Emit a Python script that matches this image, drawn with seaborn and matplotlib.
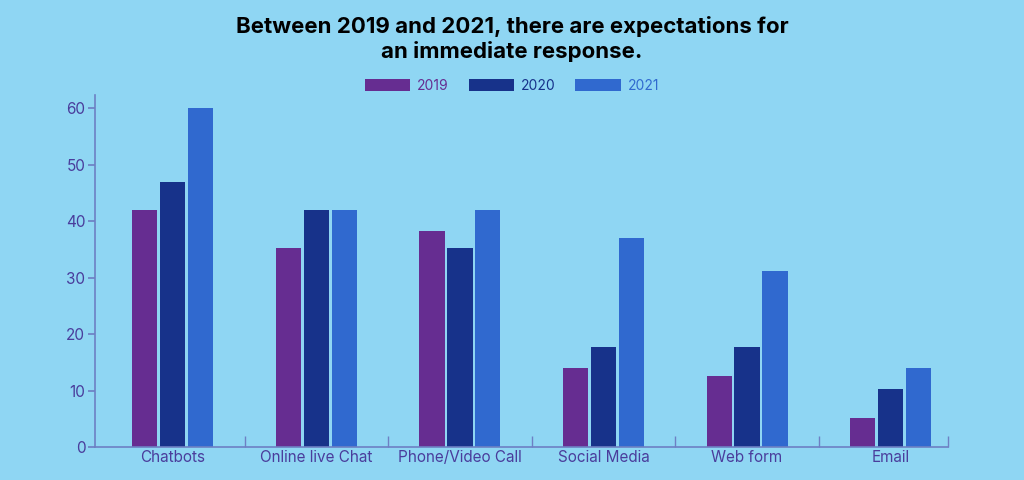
import matplotlib.pyplot as plt
import pandas as pd
import seaborn as sns

# ----- data
channels = ["Chatbots", "Online live Chat", "Phone/Video Call", "Social Media", "Web form", "Email"]
years = ["2019", "2020", "2021"]
v2019 = [42, 35.3, 38.2, 14, 12.6, 5.1]
v2020 = [47, 42, 35.3, 17.7, 17.7, 10.3]
v2021 = [60, 42, 42, 37, 31.1, 14]

colors = ["#662d91", "#17328a", "#3069cf"]
bg = "#8fd6f3"
axis_col = "#6d80c4"
text_col = "#4a3d9c"

df = pd.DataFrame({
    "channel": channels * 3,
    "year": [y for y in years for _ in channels],
    "value": v2019 + v2020 + v2021,
})

# ----- plot
sns.set_theme(style="white")
plt.rcParams["font.family"] = ["Inter", "DejaVu Sans"]

fig = plt.figure(figsize=(10.24, 4.8), dpi=100, facecolor=bg)
ax = fig.add_axes([0.0928, 0.0688, 0.833, 0.733], facecolor=bg)

sns.barplot(data=df, x="channel", y="value", hue="year", order=channels,
            hue_order=years, palette=colors, width=0.584, gap=0.1,
            saturation=1, linewidth=0, edgecolor="none", ax=ax, legend=True)

xmin, xmax = -0.542, 5.40
ax.set_xlim(xmin, xmax)
ax.set_ylim(0, 62.3)
ax.set_yticks([0, 10, 20, 30, 40, 50, 60])
ax.set_xlabel("")
ax.set_ylabel("")

for s in ["top", "right"]:
    ax.spines[s].set_visible(False)
for s in ["left", "bottom"]:
    ax.spines[s].set_color(axis_col)
    ax.spines[s].set_linewidth(1.2)

ax.tick_params(axis="y", left=True, length=5, color=axis_col, labelcolor=text_col,
               labelsize=11, pad=2)
ax.tick_params(axis="x", bottom=False, length=0, labelcolor=text_col, labelsize=11, pad=2)
ax.set_xticks([i + 0.5 for i in range(len(channels) - 1)] + [xmax], minor=True)
ax.tick_params(axis="x", which="minor", bottom=True, direction="in", length=8,
               color=axis_col, width=1)

leg = ax.legend(loc="center", bbox_to_anchor=(0.489, 1.027), ncol=3,
                frameon=False, handlelength=3.3, handleheight=1.0,
                columnspacing=1.4, handletextpad=0.5, fontsize=10)
for t, c in zip(leg.get_texts(), colors):
    t.set_color(c)
for h in leg.legend_handles:
    h.set_edgecolor("none")

fig.text(0.5, 0.967, "Between 2019 and 2021, there are expectations for\nan immediate response.",
         ha="center", va="top", fontsize=16, fontweight="bold", color="black",
         linespacing=1.25)

fig.savefig("out.png", dpi=100, facecolor=bg)
